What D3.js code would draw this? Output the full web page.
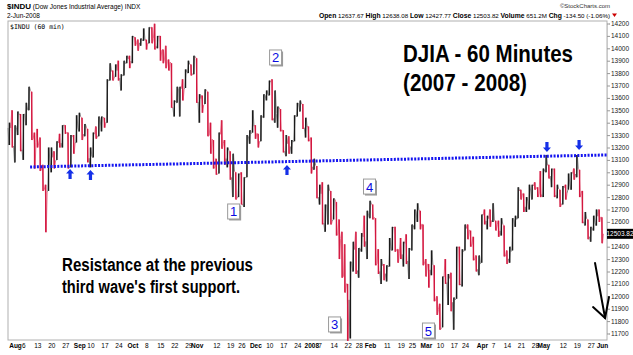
<!DOCTYPE html>
<html><head><meta charset="utf-8">
<script src="https://cdn.jsdelivr.net/npm/d3@7"></script>
<style>body{margin:0;background:#fff}svg{display:block}</style>
</head><body><svg id="c" width="633" height="355"></svg>
<script>
// ---------- DATA ----------
const dates = [
"2007-07-30","2007-07-31",
"2007-08-01","2007-08-02","2007-08-03","2007-08-06","2007-08-07","2007-08-08","2007-08-09","2007-08-10","2007-08-13","2007-08-14","2007-08-15","2007-08-16","2007-08-17","2007-08-20","2007-08-21","2007-08-22","2007-08-23","2007-08-24","2007-08-27","2007-08-28","2007-08-29","2007-08-30","2007-08-31",
"2007-09-04","2007-09-05","2007-09-06","2007-09-07","2007-09-10","2007-09-11","2007-09-12","2007-09-13","2007-09-14","2007-09-17","2007-09-18","2007-09-19","2007-09-20","2007-09-21","2007-09-24","2007-09-25","2007-09-26","2007-09-27","2007-09-28",
"2007-10-01","2007-10-02","2007-10-03","2007-10-04","2007-10-05","2007-10-08","2007-10-09","2007-10-10","2007-10-11","2007-10-12","2007-10-15","2007-10-16","2007-10-17","2007-10-18","2007-10-19","2007-10-22","2007-10-23","2007-10-24","2007-10-25","2007-10-26","2007-10-29","2007-10-30","2007-10-31",
"2007-11-01","2007-11-02","2007-11-05","2007-11-06","2007-11-07","2007-11-08","2007-11-09","2007-11-12","2007-11-13","2007-11-14","2007-11-15","2007-11-16","2007-11-19","2007-11-20","2007-11-21","2007-11-23","2007-11-26","2007-11-27","2007-11-28","2007-11-29","2007-11-30",
"2007-12-03","2007-12-04","2007-12-05","2007-12-06","2007-12-07","2007-12-10","2007-12-11","2007-12-12","2007-12-13","2007-12-14","2007-12-17","2007-12-18","2007-12-19","2007-12-20","2007-12-21","2007-12-24","2007-12-26","2007-12-27","2007-12-28","2007-12-31",
"2008-01-02","2008-01-03","2008-01-04","2008-01-07","2008-01-08","2008-01-09","2008-01-10","2008-01-11","2008-01-14","2008-01-15","2008-01-16","2008-01-17","2008-01-18","2008-01-22","2008-01-23","2008-01-24","2008-01-25","2008-01-28","2008-01-29","2008-01-30","2008-01-31",
"2008-02-01","2008-02-04","2008-02-05","2008-02-06","2008-02-07","2008-02-08","2008-02-11","2008-02-12","2008-02-13","2008-02-14","2008-02-15","2008-02-19","2008-02-20","2008-02-21","2008-02-22","2008-02-25","2008-02-26","2008-02-27","2008-02-28","2008-02-29",
"2008-03-03","2008-03-04","2008-03-05","2008-03-06","2008-03-07","2008-03-10","2008-03-11","2008-03-12","2008-03-13","2008-03-14","2008-03-17","2008-03-18","2008-03-19","2008-03-20","2008-03-24","2008-03-25","2008-03-26","2008-03-27","2008-03-28","2008-03-31",
"2008-04-01","2008-04-02","2008-04-03","2008-04-04","2008-04-07","2008-04-08","2008-04-09","2008-04-10","2008-04-11","2008-04-14","2008-04-15","2008-04-16","2008-04-17","2008-04-18","2008-04-21","2008-04-22","2008-04-23","2008-04-24","2008-04-25","2008-04-28","2008-04-29","2008-04-30",
"2008-05-01","2008-05-02","2008-05-05","2008-05-06","2008-05-07","2008-05-08","2008-05-09","2008-05-12","2008-05-13","2008-05-14","2008-05-15","2008-05-16","2008-05-19","2008-05-20","2008-05-21","2008-05-22","2008-05-23","2008-05-27","2008-05-28","2008-05-29","2008-05-30",
"2008-06-02"];

const closes = [13358,13212,
13362,13463,13181,13468,13504,13658,13270,13239,13236,13028,12861,12845,13079,13121,13091,13236,13235,13378,13322,13041,13289,13238,13358,
13448,13306,13364,13113,13127,13308,13291,13424,13442,13403,13739,13815,13767,13821,13759,13779,13878,13913,13896,
14088,14047,14044,14066,14066,14043,14165,14078,14015,14093,13985,13913,13892,13889,13522,13567,13676,13676,13672,13807,13870,13793,13930,
13567,13595,13543,13661,13300,13267,13043,12988,13307,13231,13110,13177,12958,13010,12799,12981,12743,12958,13289,13312,13372,
13315,13249,13445,13620,13626,13727,13433,13474,13518,13340,13168,13232,13207,13245,13450,13550,13551,13359,13366,13265,
13044,13057,12800,12828,12589,12736,12853,12606,12778,12501,12466,12159,12099,11971,12270,12378,12207,12384,12480,12442,12650,
12743,12635,12265,12200,12248,12182,12240,12373,12552,12376,12348,12337,12427,12284,12381,12570,12684,12694,12582,12266,
12258,12213,12254,11967,11894,11740,12156,12110,12145,11951,11972,12392,12099,12361,12548,12533,12422,12302,12216,12263,
12655,12608,12627,12610,12612,12577,12527,12582,12325,12302,12362,12619,12620,12849,12825,12721,12763,12849,12892,12871,12832,12820,
13010,13058,12969,13021,12815,12866,12745,12877,12832,12898,12992,12986,13028,12828,12601,12625,12480,12548,12594,12646,12638,
12503.82];

const highs = [13400,13500,
13380,13490,13470,13470,13560,13690,13650,13320,13350,13280,13060,12900,13200,13200,13170,13250,13310,13380,13380,13320,13300,13300,13460,
13480,13440,13390,13350,13200,13320,13370,13450,13450,13440,13750,13880,13820,13870,13900,13790,13900,13940,13940,
14100,14090,14070,14080,14160,14070,14170,14170,14198,14100,14100,13990,14020,13910,13880,13580,13690,13690,13750,13830,13900,13870,13940,
13920,13630,13620,13670,13650,13400,13260,13110,13320,13420,13260,13200,13170,13150,13000,12990,13000,12960,13300,13340,13500,
13380,13310,13460,13630,13660,13740,13750,13660,13530,13510,13340,13300,13290,13260,13460,13560,13580,13550,13440,13370,
13280,13110,13050,12900,12920,12740,12900,12850,12790,12760,12620,12520,12420,12100,12280,12440,12520,12390,12510,12650,12690,
12770,12740,12630,12380,12300,12260,12250,12470,12560,12560,12380,12470,12440,12500,12390,12580,12700,12750,12690,12580,
12300,12260,12370,12250,12000,11940,12160,12300,12180,12190,11990,12400,12400,12380,12580,12580,12530,12480,12330,12330,
12660,12700,12650,12700,12750,12610,12610,12630,12570,12370,12400,12630,12650,12880,12860,12830,12800,12900,12900,12920,12880,13010,
13030,13140,13060,13030,13030,12900,12860,12890,12900,12990,13000,13030,13140,13020,12850,12680,12620,12560,12650,12700,12700,
12638.08];

const lows = [13220,13200,
13080,13300,13170,13100,13380,13500,13260,13030,13200,13010,12850,12517,12850,13000,13030,13100,13200,13200,13310,13030,13040,13150,13240,
13330,13260,13290,13080,13040,13120,13270,13290,13330,13360,13400,13740,13740,13770,13740,13660,13780,13880,13840,
13880,14020,13980,14020,14060,13990,14040,14040,13990,14000,13900,13880,13840,13820,13520,13450,13560,13450,13580,13680,13800,13780,13790,
13560,13400,13480,13550,13290,13150,13030,12980,12990,13190,13060,13040,12940,12800,12780,12800,12740,12720,12960,13230,13320,
13270,13200,13250,13440,13580,13620,13420,13400,13360,13330,13160,13130,13150,13150,13250,13450,13490,13350,13280,13250,
12990,13020,12790,12740,12580,12520,12580,12580,12620,12490,12300,12150,12030,11640,11660,12200,12180,12150,12360,12400,12300,
12630,12620,12250,12180,12100,12130,12120,12240,12370,12360,12270,12300,12240,12260,12140,12370,12540,12600,12540,12250,
12160,12070,12170,11960,11850,11730,11750,12100,11930,11880,11730,11980,12090,12080,12370,12460,12400,12290,12200,12170,
12270,12580,12540,12560,12600,12530,12480,12490,12320,12260,12270,12370,12560,12630,12780,12680,12680,12700,12780,12860,12800,12800,
12800,13000,12950,12880,12800,12790,12720,12740,12780,12860,12860,12940,12960,12800,12590,12570,12460,12440,12530,12570,12600,
12427.77];

const yTicks = [11700,11800,11900,12000,12100,12200,12300,12400,12600,12700,12800,12900,13000,13100,13200,13300,13400,13500,13600,13700,13800,13900,14000,14100,14200];
const monthTicks = [["2007-08-01","Aug"],["2007-09-04","Sep"],["2007-10-01","Oct"],["2007-11-01","Nov"],["2007-12-03","Dec"],["2008-01-02","2008"],["2008-02-01","Feb"],["2008-03-03","Mar"],["2008-04-01","Apr"],["2008-05-01","May"],["2008-06-02","Jun"]];
const weekTicks = ["2007-08-06","2007-08-13","2007-08-20","2007-08-27","2007-09-10","2007-09-17","2007-09-24","2007-10-08","2007-10-15","2007-10-22","2007-10-29","2007-11-12","2007-11-19","2007-11-26","2007-12-10","2007-12-17","2007-12-24","2008-01-07","2008-01-14","2008-01-22","2008-01-28","2008-02-11","2008-02-19","2008-02-25","2008-03-10","2008-03-17","2008-03-24","2008-04-07","2008-04-14","2008-04-21","2008-04-28","2008-05-12","2008-05-19","2008-05-27"];

// support line (bar-position, price)
const supportLine = [[7.4,13043],[213.8,13140]];
const upArrows = [[21.7,13027],[29.0,13019],[99.3,13059]];
const downArrows = [[192.3,13164],[203.8,13180]];
const waveLabels = [["1",80.4,12680],["2",95.4,13922],["3",116.5,11769],["4",129.0,12881],["5",150.1,11720]];
const projArrow = {from:[209.5,12269], to:[213.1,11825], wingL:[208.8,11913], wingR:[214.5,11994]};
const lastClose = 12503.82;

// ---------- LAYOUT ----------
const P = {l:8, r:607, t:21, b:340};
const svg = d3.select("#c");
const x = d3.scaleLinear().domain([2,212]).range([15,602]);
const y = d3.scaleLinear().domain([11700,14200]).range([333.5,23.5]);
const idxOf = d => dates.indexOf(d);
const smallFont = "'Liberation Sans', Arial, sans-serif";
const boldFont = "'Liberation Sans', Arial, sans-serif";
const RED = "#d3173f", BLK = "#1a1a1a";

// header
const h1 = svg.append("text").attr("x",7).attr("y",8.5).attr("font-family",smallFont).attr("font-size",6.5).attr("fill","#000");
h1.append("tspan").attr("font-weight","bold").attr("font-size",8).text("$INDU");
h1.append("tspan").text(" (Dow Jones Industrial Average) INDX");
svg.append("text").attr("x",7).attr("y",17.5).attr("font-family",smallFont).attr("font-size",6.5).text("2-Jun-2008");
svg.append("text").attr("x",610).attr("y",8).attr("text-anchor","end").attr("font-family",smallFont).attr("font-size",6).attr("fill","#333").text("\u00A9StockCharts.com");
const h2 = svg.append("text").attr("x",610).attr("y",17.5).attr("text-anchor","end").attr("font-family",smallFont).attr("font-size",6.2).attr("fill","#000");
[["Open"," 12637.67 "],["High"," 12638.08 "],["Low"," 12427.77 "],["Close"," 12503.82 "],["Volume"," 651.2M "],["Chg"," -134.50 (-1.06%)"]].forEach(([a,b])=>{
  h2.append("tspan").attr("font-weight","bold").attr("font-size",6.8).text(a);
  h2.append("tspan").text(b);
});
svg.append("path").attr("d","M612,13.5 L617,13.5 L614.5,17 Z").attr("fill","#cc0000");

// frame
svg.append("rect").attr("x",P.l).attr("y",P.t).attr("width",P.r-P.l).attr("height",P.b-P.t).attr("fill","none").attr("stroke","#b0b0b0").attr("stroke-width",1);
svg.append("text").attr("x",10).attr("y",28.5).attr("font-family","'DejaVu Sans Mono',monospace").attr("font-size",6.5).text("$INDU (60 min)");

// right axis
const yAxis = d3.axisRight(y).tickValues(yTicks).tickSize(3).tickFormat(d3.format("d"));
const gy = svg.append("g").attr("transform",`translate(${P.r},0)`).call(yAxis);
gy.select(".domain").attr("stroke","#bbb").attr("stroke-dasharray","1,1");
gy.selectAll(".tick line").attr("stroke","#999");
gy.selectAll("text").attr("font-family",smallFont).attr("font-size",6.5).attr("x",4).attr("fill","#222");

// bottom axis
const tickIdx = monthTicks.map(d=>idxOf(d[0])).concat(weekTicks.map(idxOf));
const labelMap = new Map();
monthTicks.forEach(d=>labelMap.set(idxOf(d[0]),{t:d[1],b:true}));
weekTicks.forEach(d=>labelMap.set(idxOf(d),{t:String(+d.slice(8)),b:false}));
const xAxis = d3.axisBottom(x).tickValues(tickIdx).tickSize(0).tickPadding(3).tickFormat(k=>labelMap.get(k).t);
const gx = svg.append("g").attr("transform",`translate(0,${P.b})`).call(xAxis);
gx.select(".domain").remove();
gx.selectAll("text").attr("font-family",smallFont).attr("font-size",6.5).attr("fill","#000")
  .attr("font-weight",k=>labelMap.get(k).b?"bold":"normal");

// price bars: each trading day drawn as a high-low bar plus a thin trace
// from the previous close through the day's extremes to its close
const days = d3.range(dates.length);
const isDown = k => k>0 && closes[k]<closes[k-1];
const trace = k => {
  const pc = k>0 ? closes[k-1] : closes[k];
  const first = isDown(k) ? highs[k] : lows[k];
  const second = isDown(k) ? lows[k] : highs[k];
  const xc = x(k);
  return [[xc-1.4,y(pc)],[xc-0.5,y(first)],[xc+0.5,y(second)],[xc+1.4,y(closes[k])]];
};
const g = svg.append("g");
g.selectAll("path.tr").data(days).join("path").attr("class","tr")
  .attr("d",k=>d3.line()(trace(k)))
  .attr("fill","none").attr("stroke",k=>isDown(k)?"#e8708a":"#8a8a8a").attr("stroke-width",1);
g.selectAll("line").data(days).join("line")
  .attr("x1",k=>x(k)).attr("x2",k=>x(k))
  .attr("y1",k=>y(highs[k])).attr("y2",k=>y(lows[k]))
  .attr("stroke",k=>isDown(k)?RED:BLK)
  .attr("stroke-width",1.4);

// support line
svg.append("path").datum(supportLine)
  .attr("d",d3.line().x(d=>x(d[0])).y(d=>y(d[1])))
  .attr("stroke","#1515f0").attr("stroke-width",3).attr("stroke-dasharray","2,1.4").attr("fill","none");

// arrows
const upPath = "M0,0 L-4,4.5 L-1.6,4.5 L-1.6,10 L1.6,10 L1.6,4.5 L4,4.5 Z";
svg.append("g").selectAll("path").data(upArrows).join("path")
  .attr("d",upPath).attr("fill","#1530e8")
  .attr("transform",d=>`translate(${x(d[0])},${y(d[1])})`);
svg.append("g").selectAll("path").data(downArrows).join("path")
  .attr("d",upPath).attr("fill","#1530e8")
  .attr("transform",d=>`translate(${x(d[0])},${y(d[1])}) rotate(180)`);

// wave labels
const wl = svg.append("g").selectAll("g").data(waveLabels).join("g")
  .attr("transform",d=>`translate(${x(d[1])},${y(d[2])})`);
wl.append("rect").attr("x",-5).attr("y",-6.5).attr("width",12).attr("height",15).attr("fill","#9a9a9a");
wl.append("rect").attr("x",-6.5).attr("y",-8).attr("width",12).attr("height",15).attr("fill","#fff").attr("stroke","#9a9a9a").attr("stroke-width",1);
wl.append("text").attr("x",-0.5).attr("y",4.5).attr("text-anchor","middle").attr("font-family",smallFont).attr("font-size",13).attr("fill","#0a0ae0").text(d=>d[0]);

// projection arrow
const pa = svg.append("g").attr("stroke","#000").attr("stroke-width",2).attr("fill","none").attr("stroke-linecap","round");
pa.append("line").attr("x1",x(projArrow.from[0])).attr("y1",y(projArrow.from[1])).attr("x2",x(projArrow.to[0])).attr("y2",y(projArrow.to[1]));
pa.append("polyline").attr("points",[projArrow.wingL,projArrow.to,projArrow.wingR].map(p=>[x(p[0]),y(p[1])].join(",")).join(" "));

// last price box
const lp = svg.append("g").attr("transform",`translate(${P.r},${y(lastClose)})`);
lp.append("rect").attr("x",0).attr("y",-5).attr("width",26).attr("height",10).attr("fill","#000");
lp.append("text").attr("x",13).attr("y",2.3).attr("text-anchor","middle").attr("font-family",smallFont).attr("font-size",6.5).attr("fill","#fff").text("12503.82");

// titles (condensed bold, compressed to the reference widths)
function cond(xp, yp, size, len, txt){
  svg.append("text").attr("x",xp).attr("y",yp).attr("font-family",boldFont).attr("font-weight","bold")
    .attr("font-size",size).attr("fill","#000").attr("textLength",len).attr("lengthAdjust","spacingAndGlyphs").text(txt);
}
cond(403, 62, 24, 170, "DJIA - 60 Minutes");
cond(403, 90.5, 24, 124, "(2007 - 2008)");
cond(62, 271, 17.5, 191, "Resistance at the previous");
cond(62, 293, 17.5, 178, "third wave's first support.");
</script></body></html>
